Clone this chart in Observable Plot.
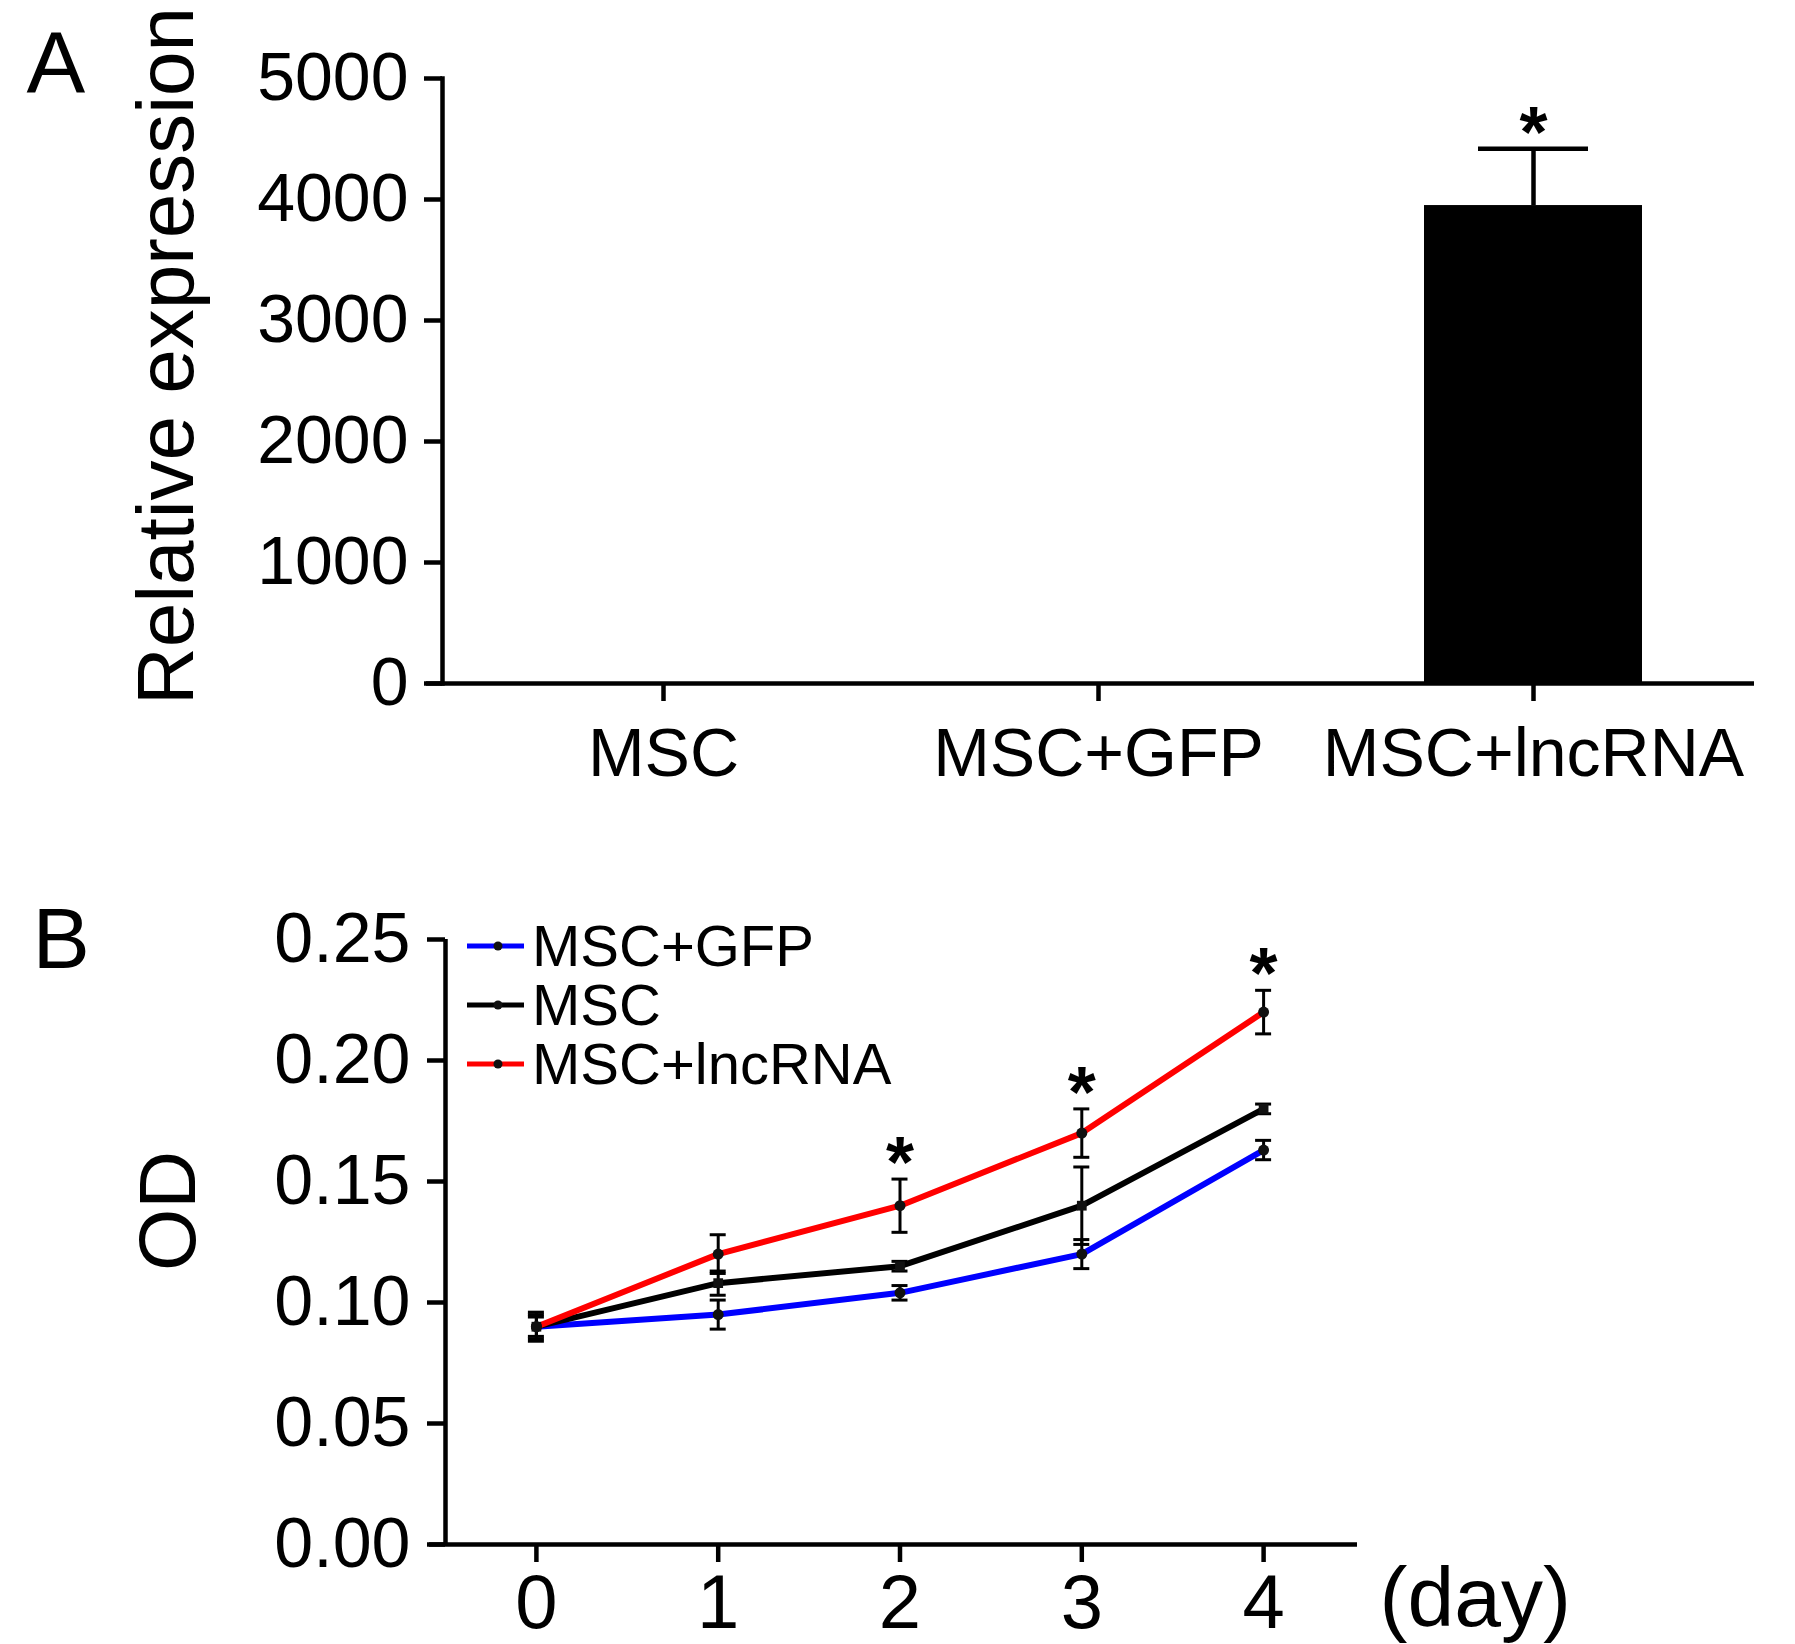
<!DOCTYPE html>
<html>
<head>
<meta charset="utf-8">
<script src="https://cdn.jsdelivr.net/npm/d3@7"></script>
<script src="https://cdn.jsdelivr.net/npm/@observablehq/plot@0.6"></script>
<style>
  body { margin: 0; background: #fff; }
  #wrap { position: relative; width: 1795px; height: 1644px; font-family: "Liberation Sans", Arial, sans-serif; }
  #wrap svg { position: absolute; left: 0; }
  .legend { position: absolute; left: 467px; top: 916px; font-size: 58px; line-height: 58px; color: #000; }
  .legend div { display: flex; align-items: center; height: 59px; }
  .legend svg { position: static !important; margin-right: 8px; }
</style>
</head>
<body>
<div id="wrap"></div>
<script>
// panel A: relative expression
var groups = ["MSC", "MSC+GFP", "MSC+lncRNA"];
var expression = [1, 1.2, 3950];
var expressionErr = [0.1, 0.2, 470];
var expressionSig = [false, false, true];
var yTicksA = [0, 1000, 2000, 3000, 4000, 5000];

// panel B: OD over days
var days = [0, 1, 2, 3, 4];
var seriesNames = ["MSC+GFP", "MSC", "MSC+lncRNA"];
var seriesColors = ["#0000ff", "#000000", "#ff0000"];
var odGFP = [0.090, 0.095, 0.104, 0.120, 0.163];
var errGFP = [0.005, 0.006, 0.003, 0.006, 0.004];
var odMSC = [0.090, 0.108, 0.115, 0.140, 0.180];
var errMSC = [0.004, 0.005, 0.002, 0.016, 0.002];
var odLnc = [0.090, 0.120, 0.140, 0.170, 0.220];
var errLnc = [0.006, 0.008, 0.011, 0.010, 0.009];
var sigDays = [2, 3, 4];
var yTicksB = [0, 0.05, 0.10, 0.15, 0.20, 0.25];

var font = "'Liberation Sans', Arial, sans-serif";
var wrap = document.getElementById("wrap");

var tableA = groups.map((g, i) => ({group: g, value: expression[i], err: expressionErr[i], sig: expressionSig[i]}));
// error bars too small to see are left out (they'd sit on the axis)
var errA = tableA.filter((d) => d.err > 1);

var plotA = Plot.plot({
  width: 1795,
  height: 820,
  marginLeft: 442,
  marginRight: 41,
  marginTop: 78,
  marginBottom: 137,
  style: {fontFamily: font, background: "white", overflow: "visible"},
  x: {domain: groups, paddingInner: 0.5, paddingOuter: 0.257},
  y: {domain: [0, 5000]},
  marks: [
    Plot.barY(tableA, {x: "group", y: "value", fill: "black"}),
    Plot.ruleX(errA, {x: "group", y1: "value", y2: (d) => d.value + d.err, strokeWidth: 4.5}),
    Plot.tickY(errA, {x: "group", y: (d) => d.value + d.err, strokeWidth: 4.5, inset: 54}),
    Plot.text(tableA.filter((d) => d.sig), {x: "group", y: (d) => d.value + d.err, text: () => "*", fontSize: 72, fontWeight: "bold", lineAnchor: "bottom", dy: 8}),
    Plot.axisY({ticks: yTicksA, tickFormat: (d) => String(d), tickSize: 18, tickPadding: 16, fontSize: 68, strokeWidth: 4.5, label: null}),
    Plot.axisX({tickSize: 18, tickPadding: 26, fontSize: 68, strokeWidth: 4.5, label: null}),
    Plot.frame({anchor: "left", strokeWidth: 4.5}),
    Plot.ruleY([0], {strokeWidth: 4.5, insetLeft: -16}),
    Plot.text(["Relative expression"], {frameAnchor: "left", dx: -275, dy: -25, rotate: -90, textAnchor: "middle", fontSize: 80}),
    Plot.text(["A"], {frameAnchor: "top-left", dx: -416, dy: 14, textAnchor: "start", lineAnchor: "bottom", fontSize: 88})
  ]
});
plotA.style.top = "0px";
wrap.appendChild(plotA);

var tableB = [];
[[odGFP, errGFP], [odMSC, errMSC], [odLnc, errLnc]].forEach(([od, err], s) => {
  days.forEach((d, i) => tableB.push({series: seriesNames[s], day: d, od: od[i], err: err[i]}));
});
var sigB = tableB.filter((d) => d.series == "MSC+lncRNA" && sigDays.includes(d.day));

var plotB = Plot.plot({
  width: 1795,
  height: 824,
  marginLeft: 445,
  marginRight: 441,
  marginTop: 119,
  marginBottom: 100,
  style: {fontFamily: font, background: "transparent", overflow: "visible"},
  x: {domain: [-0.5, 4.5]},
  y: {domain: [0, 0.25]},
  color: {domain: seriesNames, range: seriesColors},
  marks: [
    Plot.line(tableB, {x: "day", y: "od", stroke: "series", z: "series", strokeWidth: 6}),
    Plot.ruleX(tableB, {x: "day", y1: (d) => d.od - d.err, y2: (d) => d.od + d.err, strokeWidth: 3}),
    Plot.ruleY(tableB, {y: (d) => d.od + d.err, x1: "day", x2: "day", insetLeft: -8, insetRight: -8, strokeWidth: 3}),
    Plot.ruleY(tableB, {y: (d) => d.od - d.err, x1: "day", x2: "day", insetLeft: -8, insetRight: -8, strokeWidth: 3}),
    Plot.dot(tableB, {x: "day", y: "od", r: 5.5, fill: "#111", symbol: (d) => d.series == "MSC" ? "square" : "circle"}),
    Plot.text(sigB, {x: "day", y: (d) => d.od + d.err, text: () => "*", fontSize: 72, fontWeight: "bold", lineAnchor: "bottom", dy: 8}),
    Plot.ruleX([-0.5], {strokeWidth: 4.5}),
    Plot.ruleY([0], {strokeWidth: 4.5, insetLeft: -16, insetRight: -3}),
    Plot.axisY({ticks: yTicksB, tickFormat: d3.format(".2f"), tickSize: 18, tickPadding: 17, fontSize: 70, strokeWidth: 4.5, label: null}),
    Plot.axisX({ticks: days, tickFormat: (d) => String(d), tickSize: 18, tickPadding: 12, fontSize: 76, strokeWidth: 4.5, label: null}),
    Plot.text(["(day)"], {frameAnchor: "bottom-right", dx: 25, dy: 81, textAnchor: "start", lineAnchor: "bottom", fontSize: 84}),
    Plot.text(["OD"], {frameAnchor: "left", dx: -276, dy: -31, rotate: -90, textAnchor: "middle", fontSize: 80}),
    Plot.text(["B"], {frameAnchor: "top-left", dx: -413, dy: 28, textAnchor: "start", lineAnchor: "bottom", fontSize: 86})
  ]
});
plotB.style.top = "820px";
wrap.appendChild(plotB);

// legend for panel B
var legend = document.createElement("div");
legend.className = "legend";
seriesNames.forEach((name, i) => {
  var row = document.createElement("div");
  row.innerHTML = '<svg width="57" height="58"><line x1="0" x2="57" y1="29" y2="29" stroke="' + seriesColors[i] +
    '" stroke-width="5"/><circle cx="31" cy="29" r="4.5" fill="#111"/></svg><span>' + name + '</span>';
  legend.appendChild(row);
});
wrap.appendChild(legend);
</script>
</body>
</html>
